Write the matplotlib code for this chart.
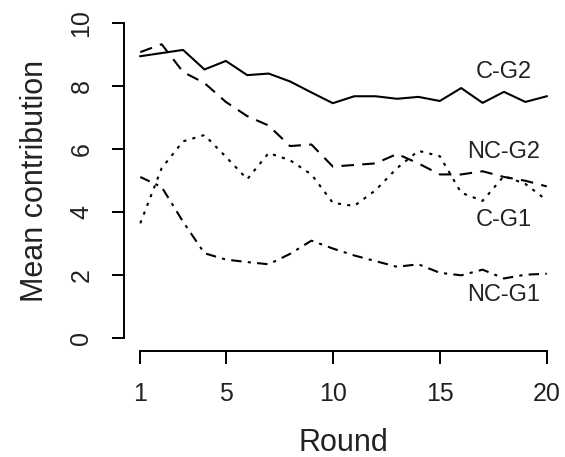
import numpy as np
import matplotlib
matplotlib.use('Agg')
import matplotlib.pyplot as plt

plt.rcParams['font.family'] = ['Liberation Sans', 'DejaVu Sans']

rounds = np.arange(1, 21)
c_g2 = [8.95, 9.05, 9.15, 8.53, 8.8, 8.35, 8.4, 8.15, 7.8, 7.46,
        7.68, 7.68, 7.6, 7.66, 7.53, 7.94, 7.47, 7.82, 7.5, 7.68]
nc_g2 = [9.08, 9.33, 8.45, 8.1, 7.5, 7.05, 6.75, 6.1, 6.15, 5.45,
         5.5, 5.55, 5.85, 5.55, 5.2, 5.2, 5.3, 5.12, 5.0, 4.82]
c_g1 = [3.65, 5.4, 6.25, 6.45, 5.76, 5.05, 5.88, 5.65, 5.2, 4.3,
        4.2, 4.7, 5.4, 5.95, 5.78, 4.62, 4.36, 5.15, 4.9, 4.38]
nc_g1 = [5.12, 4.8, 3.7, 2.7, 2.5, 2.42, 2.35, 2.68, 3.1, 2.85,
         2.63, 2.45, 2.27, 2.35, 2.08, 2.0, 2.18, 1.9, 2.02, 2.05]

labels = ['C-G2', 'NC-G2', 'C-G1', 'NC-G1']
label_pos = [(18.0, 8.44), (18.0, 5.9), (18.0, 3.75), (18.0, 1.37)]

fig = plt.figure(figsize=(5.65, 4.57), dpi=100)
ax = fig.add_axes([0.2195, 0.232, 0.777, 0.745])

lw = 1.5
ax.plot(rounds, c_g2, color='black', lw=lw)
ax.plot(rounds, nc_g2, color='black', lw=lw, dashes=(6, 4))
ax.plot(rounds, c_g1, color='black', lw=lw, dashes=(1.5, 3))
ax.plot(rounds, nc_g1, color='black', lw=lw, dashes=(5, 3, 1.5, 3))

for lab, (x, y) in zip(labels, label_pos):
    ax.text(x, y, lab, fontsize=17, ha='center', va='center', color='#222222')

ax.set_xlim(1 - 0.76, 20 + 0.76)
ax.set_ylim(-0.4, 10.4)
ax.set_xticks([1, 5, 10, 15, 20])
ax.set_yticks([0, 2, 4, 6, 8, 10])
for s in ['top', 'right']:
    ax.spines[s].set_visible(False)
ax.spines['left'].set_bounds(0, 10)
ax.spines['bottom'].set_bounds(1, 20)
for s in ['left', 'bottom']:
    ax.spines[s].set_linewidth(1.4)
ax.tick_params(direction='out', length=9, width=1.4, labelsize=18,
               labelcolor='#222222')
ax.tick_params(axis='x', pad=13)
ax.tick_params(axis='y', pad=13)
for t in ax.get_yticklabels():
    t.set_rotation(90)
    t.set_va('center')

ax.set_xlabel('Round', fontsize=22, labelpad=16, color='#222222')
ax.set_ylabel('Mean contribution', fontsize=22, labelpad=14, color='#222222')

fig.savefig('out.png', dpi=100)
